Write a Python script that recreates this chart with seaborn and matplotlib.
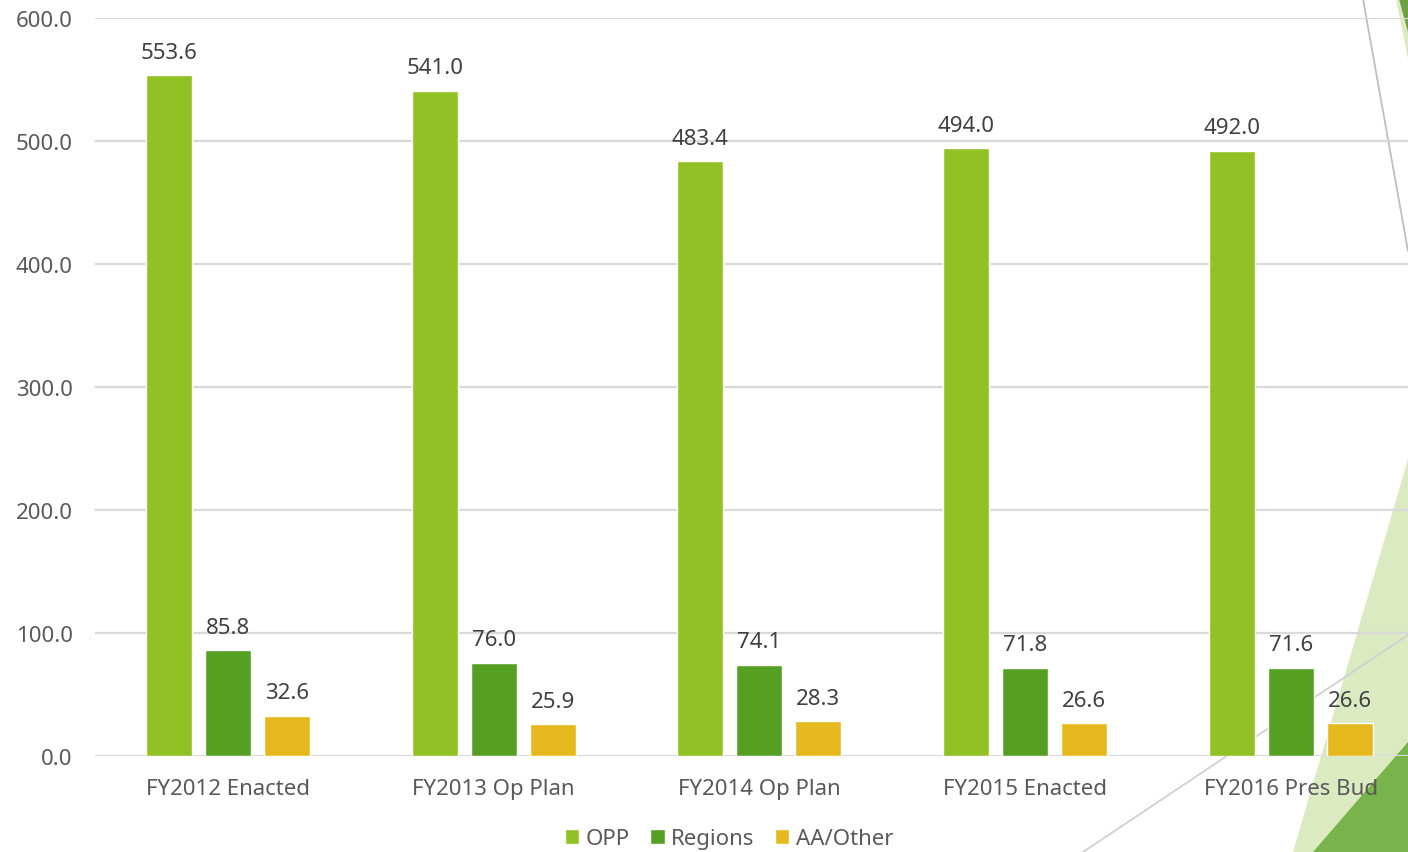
import pandas as pd
import seaborn as sns
import matplotlib.pyplot as plt
from matplotlib.patches import Polygon
from matplotlib.lines import Line2D

# chart data
categories = ['FY2012 Enacted', 'FY2013 Op Plan', 'FY2014 Op Plan', 'FY2015 Enacted', 'FY2016 Pres Bud']
series = ['OPP', 'Regions', 'AA/Other']
opp = [553.6, 541.0, 483.4, 494.0, 492.0]
regions = [85.8, 76.0, 74.1, 71.8, 71.6]
aa_other = [32.6, 25.9, 28.3, 26.6, 26.6]
yticks = [0, 100, 200, 300, 400, 500, 600]

colors = ['#92C125', '#55A022', '#E5B91E']

df = pd.DataFrame({
    'Category': categories * 3,
    'Series': ['OPP'] * 5 + ['Regions'] * 5 + ['AA/Other'] * 5,
    'Value': opp + regions + aa_other,
})

sns.set_theme(style='white')
plt.rcParams['font.family'] = ['Noto Sans', 'DejaVu Sans']

W, H = 1408, 853
fig = plt.figure(figsize=(W / 100, H / 100), dpi=100)
fig.patch.set_facecolor('white')

# slide background decoration (pixel coords -> figure fraction)
def px(x, y):
    return (x / W, 1 - y / H)

fig.add_artist(Polygon([px(1293, 853), px(1408, 460), px(1408, 853)], closed=True,
                       transform=fig.transFigure, facecolor='#DCEAC2', edgecolor='none', zorder=-3))
fig.add_artist(Polygon([px(1313, 853), px(1408, 743), px(1408, 853)], closed=True,
                       transform=fig.transFigure, facecolor='#79B34B', edgecolor='none', zorder=-2))
fig.add_artist(Polygon([px(1396, 0), px(1408, 60), px(1408, 0)], closed=True,
                       transform=fig.transFigure, facecolor='#DCEAC2', edgecolor='none', zorder=-3))
fig.add_artist(Polygon([px(1399, 0), px(1408, 33), px(1408, 0)], closed=True,
                       transform=fig.transFigure, facecolor='#6FA045', edgecolor='none', zorder=-2))
for (x0, y0), (x1, y1), c in [((1363, 0), (1408, 252), '#BFBFBF'),
                             ((1080, 855), (1408, 636), '#D0D0D0')]:
    fig.add_artist(Line2D([x0 / W, x1 / W], [1 - y0 / H, 1 - y1 / H], transform=fig.transFigure,
                          color=c, lw=1.3, zorder=-1))

ax = fig.add_axes([95 / W, (H - 757) / H, 1328.75 / W, 738 / H])
ax.set_facecolor('none')

sns.barplot(data=df, x='Category', y='Value', hue='Series', palette=colors,
            width=0.666, gap=0.22, ax=ax, saturation=1, legend=True)

ax.set_xlim(-0.5, 4.5)
ax.set_ylim(0, 600)
ax.set_yticks(yticks)
ax.set_yticklabels([f'{v:.1f}' for v in yticks])
ax.grid(axis='y', color='#D9D9D9', lw=1.6)
ax.set_axisbelow(True)
for s in ax.spines.values():
    s.set_visible(False)
ax.set_xlabel('')
ax.set_ylabel('')
ax.tick_params(axis='y', length=0, pad=16, labelsize=16, labelcolor='#595959')
ax.tick_params(axis='x', length=0, pad=16, labelsize=16, labelcolor='#595959')

for cont in ax.containers:
    ax.bar_label(cont, fmt='%.1f', padding=9, fontsize=16, color='#404040')

handles, labels = ax.get_legend_handles_labels()
ax.legend(handles, labels, loc='center', bbox_to_anchor=(729 / W, 1 - 840 / H),
          bbox_transform=fig.transFigure, ncol=3, frameon=False, fontsize=16,
          handlelength=0.65, handleheight=0.65, handletextpad=0.3, columnspacing=0.9,
          labelcolor='#595959')

fig.savefig('out.png', dpi=100)
